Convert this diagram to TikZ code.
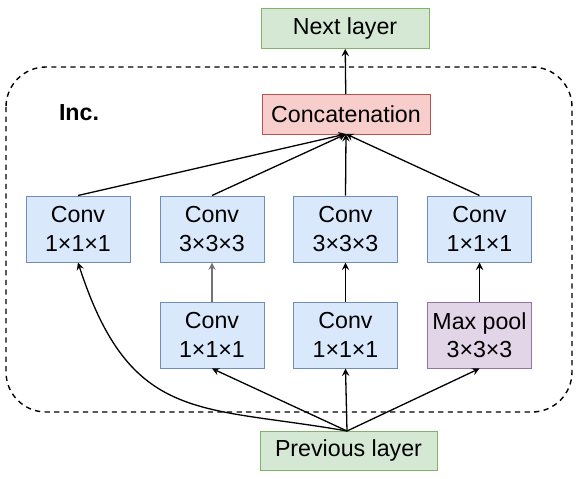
\documentclass[tikz,border=0pt]{standalone}
\usepackage{fontspec}
\setmainfont{Liberation Sans}
\begin{document}
\begin{tikzpicture}[x=0.5pt,y=-0.5pt,->,>=stealth,line width=0.65pt,
  font=\fontsize{11.6}{14.2}\selectfont,
  box/.style={rectangle,draw,line width=0.5pt,inner sep=0pt,align=center},
  conv node/.style={box,fill={rgb,255:red,218;green,232;blue,252},draw={rgb,255:red,108;green,142;blue,191},minimum width=52pt,minimum height=33pt},
  pool node/.style={conv node,fill={rgb,255:red,225;green,213;blue,231},draw={rgb,255:red,150;green,115;blue,166}},
  layer node/.style={box,fill={rgb,255:red,213;green,232;blue,212},draw={rgb,255:red,130;green,179;blue,102},minimum width=84pt,minimum height=20pt},
  cat node/.style={layer node,fill={rgb,255:red,248;green,206;blue,204},draw={rgb,255:red,184;green,84;blue,80}}]

      \useasboundingbox (0,0) rectangle (578,478);

      % inception block
      \draw[-,dash pattern=on 2.6pt off 2.2pt,line width=0.7pt,rounded corners=20pt] (6,67) rectangle (572,412);
      \node[font=\fontsize{11.6}{14}\selectfont\bfseries] at (79,112.5) (0) {Inc.};

      \node[layer node] at (345,28.3) (1) {Next layer};
      \node[cat node] at (346,114.5) (2) {Concatenation};
      \node[conv node] at (78,229) (3) {Conv\\1×1×1};
      \node[conv node] at (212,229) (4) {Conv\\3×3×3};
      \node[conv node] at (345.5,229) (5) {Conv\\3×3×3};
      \node[conv node] at (479.5,229) (6) {Conv\\1×1×1};
      \node[conv node] at (212,335) (7) {Conv\\1×1×1};
      \node[conv node] at (345.5,335) (8) {Conv\\1×1×1};
      \node[pool node] at (479.5,335) (9) {Max pool\\3×3×3};
      \node[layer node,minimum width=88.5pt,minimum height=19.5pt] at (348.5,450.5) (10) {Previous layer};

      \coordinate (c) at (346,134);
      \coordinate (p) at (347,431);

      \path
      (2) edge (1)
      (3.north) edge (c)
      (4.north) edge (c)
      (5.north) edge (c)
      (6.north) edge (c)
      (7) edge[black!55] (4)
      (8) edge (5)
      (9) edge (6)
      (p) edge[out=170,in=-72,out looseness=1.2,in looseness=1.37] (3.south)
      (p) edge (7.south)
      (p) edge (8.south)
      (p) edge (9.south)
      ;

    \end{tikzpicture}
\end{document}
